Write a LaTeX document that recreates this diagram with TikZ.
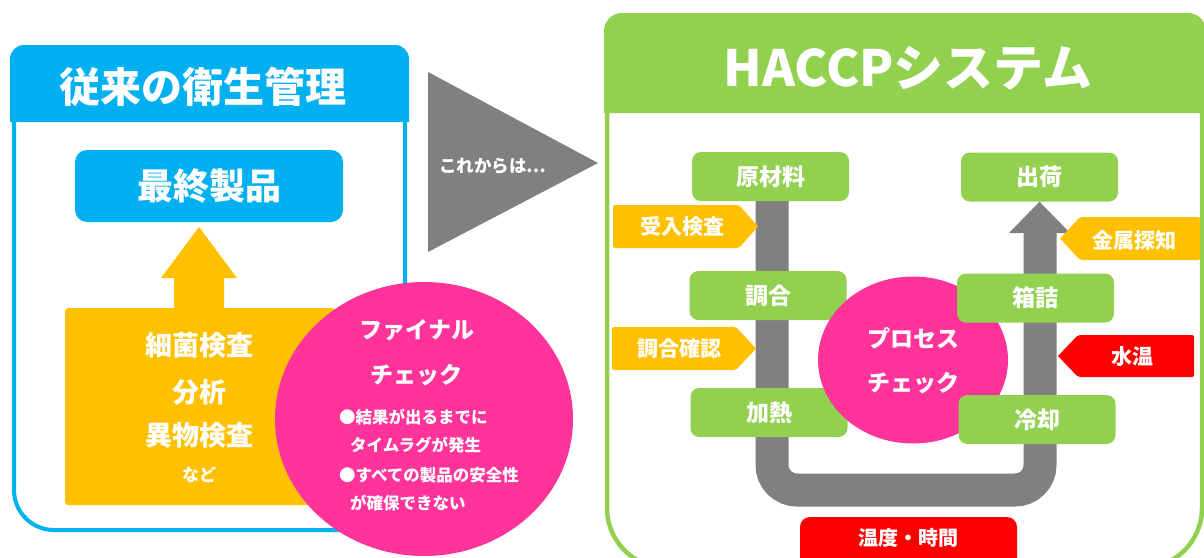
\documentclass[tikz,border=0pt]{standalone}
\usepackage{fontspec}
\setmainfont{Noto Sans CJK JP}
\usetikzlibrary{shapes.geometric,backgrounds}
\definecolor{cblue}{HTML}{00B0F0}
\definecolor{cgreen}{HTML}{92D050}
\definecolor{cyellow}{HTML}{FFC000}
\definecolor{cpink}{HTML}{FF3399}
\definecolor{cgray}{HTML}{808080}
\definecolor{cred}{HTML}{FF0000}
\newcommand{\fsz}[1]{\fontsize{#1}{#1}\selectfont\bfseries}
\begin{document}
\begin{tikzpicture}[x=1pt,y=-1pt,
  txt/.style={text=white, inner sep=0pt, font=\fsz{#1}},
  gbox/.style={fill=cgreen, rounded corners=9pt, inner sep=0pt, minimum width=157pt, minimum height=49pt, text=white, font=\fsz{23}},
  pipe/.style={draw=cgray, line width=33pt, rounded corners=25pt},
  tagY/.style={fill=cyellow, rounded corners=2pt},
  tagR/.style={fill=cred, rounded corners=2pt}]
\useasboundingbox (0,0) rectangle (1204,557);
\clip (0,0) rectangle (1204,557);

% ---------- left panel ----------
\draw[cblue, line width=4pt, rounded corners=40pt] (14,110) -- (14,530) -- (405,530) -- (405,110);
\fill[cblue] (10,122) [rounded corners=14pt] -- (10,45) -- (409,45) [sharp corners] -- (409,122) -- cycle;
\node[txt=41] (lt) at (203,87) {従来の衛生管理};
\node[fill=cblue, rounded corners=12pt, minimum width=268pt, minimum height=72pt, txt=36] (prod) at (209,186) {最終製品};

\node[fill=cyellow, rounded corners=3pt, minimum width=270pt, minimum height=197pt, anchor=north west, inner sep=0pt] (ybox) at (65,308) {};
\fill[cyellow] (174,308) -- (174,278) -- (161,278) -- (199,227) -- (237,278) -- (224,278) -- (224,308) -- cycle;
\node[txt=27] (y1) at (199,345) {細菌検査};
\node[txt=27] (y2) at (199,392) {分析};
\node[txt=27] (y3) at (199,435) {異物検査};
\node[txt=17] (y4) at (199,475) {など};

\node[ellipse, fill=cpink, inner sep=0pt, minimum width=298pt, minimum height=274pt] (fc) at (424,419) {};
\node[txt=23] (f1) at (417,330) {ファイナル};
\node[txt=23] (f2) at (416,375) {チェック};
\node[txt=16.5, anchor=west] (b1) at (339,417) {●結果が出るまでに};
\node[txt=16.5, anchor=west] (b2) at (350,445) {タイムラグが発生};
\node[txt=16.5, anchor=west] (b3) at (339,475) {●すべての製品の安全性};
\node[txt=16.5, anchor=west] (b4) at (350,503) {が確保できない};

% ---------- middle arrow ----------
\fill[cgray] (428,72) -- (598,163) -- (428,252) -- cycle;
\node[txt=17.5] (next) at (493,166) {これからは…};

% ---------- right panel ----------
\draw[cgreen, line width=4.5pt, rounded corners=60pt] (607,100) -- (607,568) -- (1202,568) -- (1202,100);
\fill[cgreen] (604,113) [rounded corners=18pt] -- (604,13) -- (1206,13) [sharp corners] -- (1206,113) -- cycle;
\node[txt=50] (rt) at (908,68) {HACCPシステム};

\node[gbox] (raw) at (770.5,176.5) {原材料};
\node[gbox] (ship) at (1039.5,177) {出荷};
\node[gbox] (mix) at (768,295.5) {調合};
\node[gbox] (heat) at (769,412.5) {加熱};

\coordinate (bl) at (772,490);
\coordinate (br) at (1040,490);
\coordinate (ah) at (1040,233);
\begin{scope}[on background layer]
\draw[pipe] (raw.south -| bl) -- (bl) -- (br) -- (ah);
\end{scope}
\fill[cgray] (1009,233) -- (ship.south) -- (1070,233) -- cycle;

\node[ellipse, fill=cpink, inner sep=0pt, minimum width=190pt, minimum height=167pt] (pc) at (913,360) {};
\node[txt=23] (p1) at (913,338) {プロセス};
\node[txt=23] (p2) at (913,383) {チェック};

\node[gbox] (pack) at (1035.5,298) {箱詰};
\node[gbox] (cool) at (1037,419.5) {冷却};

\fill[tagY] (613,205) -- (739,205) [sharp corners] -- (758,226.5) [rounded corners=2pt] -- (739,248) -- (613,248) -- cycle;
\node[txt=21] (t1) at (682,227) {受入検査};
\fill[tagY] (612,327) -- (736,327) [sharp corners] -- (756,348.5) [rounded corners=2pt] -- (736,370) -- (612,370) -- cycle;
\node[txt=21] (t2) at (679,349) {調合確認};
\fill[tagY] (1200,217) -- (1080,217) [sharp corners] -- (1060,238.5) [rounded corners=2pt] -- (1080,260) -- (1200,260) -- cycle;
\node[txt=21] (t3) at (1134,240) {金属探知};
\fill[tagR] (1194,335) -- (1078,335) [sharp corners] -- (1058,356) [rounded corners=2pt] -- (1078,377) -- (1194,377) -- cycle;
\node[txt=21] (t4) at (1132,357) {水温};

\fill[cred, rounded corners=10pt] (800,575) -- (800,517) -- (1017,517) -- (1017,575) -- cycle;
\node[txt=20] (tt) at (908,538) {温度・時間};
\end{tikzpicture}
\end{document}
